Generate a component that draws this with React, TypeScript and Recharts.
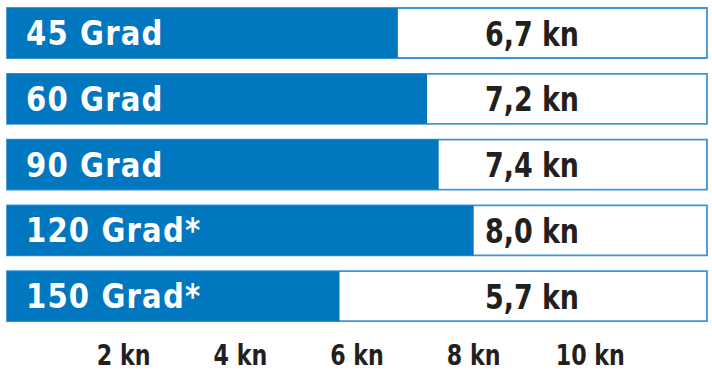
import React from 'react';
import { BarChart, Bar, XAxis, YAxis, LabelList } from 'recharts';

const categories = ['45 Grad', '60 Grad', '90 Grad', '120 Grad*', '150 Grad*'];
const speeds = [6.7, 7.2, 7.4, 8.0, 5.7];
const speedLabels = ['6,7 kn', '7,2 kn', '7,4 kn', '8,0 kn', '5,7 kn'];
const tickValues = [2, 4, 6, 8, 10];
const tickLabels = ['2 kn', '4 kn', '6 kn', '8 kn', '10 kn'];
const valueLabelAt = 9;

const data = categories.map((c, i) => ({ name: c, speed: speeds[i], label: speedLabels[i] }));

const FONT = "'DejaVu Sans Condensed', 'DejaVu Sans', sans-serif";
const BLUE = '#0077bf';
const DARK = '#231f20';

const NameLabel = (props: any) => {
  const { x, y, height, value } = props;
  return (
    <text
      transform={`translate(${x + 19},${y + height / 2 + 12}) scale(0.98,1)`}
      fill="#fff"
      fontFamily={FONT}
      fontWeight={700}
      fontSize={33}
      letterSpacing={1.2}
    >
      {value}
    </text>
  );
};

const ValueLabel = (props: any) => {
  const { x, y, width, height, index } = props;
  const px = x + (width / speeds[index]) * valueLabelAt;
  return (
    <text
      transform={`translate(${px},${y + height / 2 + 12.5}) scale(0.88,1)`}
      textAnchor="middle"
      fill={DARK}
      fontFamily={FONT}
      fontWeight={700}
      fontSize={34}
    >
      {speedLabels[index]}
    </text>
  );
};

const Tick = (props: any) => {
  const { x, y, payload } = props;
  const i = tickValues.indexOf(payload.value);
  return (
    <text
      transform={`translate(${x},${y + 28}) scale(0.85,1)`}
      textAnchor="middle"
      fill={DARK}
      fontFamily={FONT}
      fontWeight={700}
      fontSize={29}
    >
      {tickLabels[i]}
    </text>
  );
};

export default function App() {
  return (
    <div style={{ position: 'absolute', left: 0, top: 0, background: '#fff' }}>
      <BarChart
        width={712}
        height={381}
        data={data}
        layout="vertical"
        margin={{ top: 0, right: 5, bottom: 0, left: 7 }}
        barCategoryGap={8}
      >
        <XAxis
          type="number"
          domain={[0, 12]}
          ticks={tickValues}
          axisLine={false}
          tickLine={false}
          height={52}
          tick={<Tick />}
          interval={0}
        />
        <YAxis type="category" dataKey="name" hide />
        <Bar
          dataKey="speed"
          fill={BLUE}
          isAnimationActive={false}
          background={{ fill: '#fff', stroke: '#3f95d3', strokeWidth: 1.8 }}
        >
          <LabelList dataKey="name" content={<NameLabel />} />
          <LabelList dataKey="label" content={<ValueLabel />} />
        </Bar>
      </BarChart>
    </div>
  );
}
